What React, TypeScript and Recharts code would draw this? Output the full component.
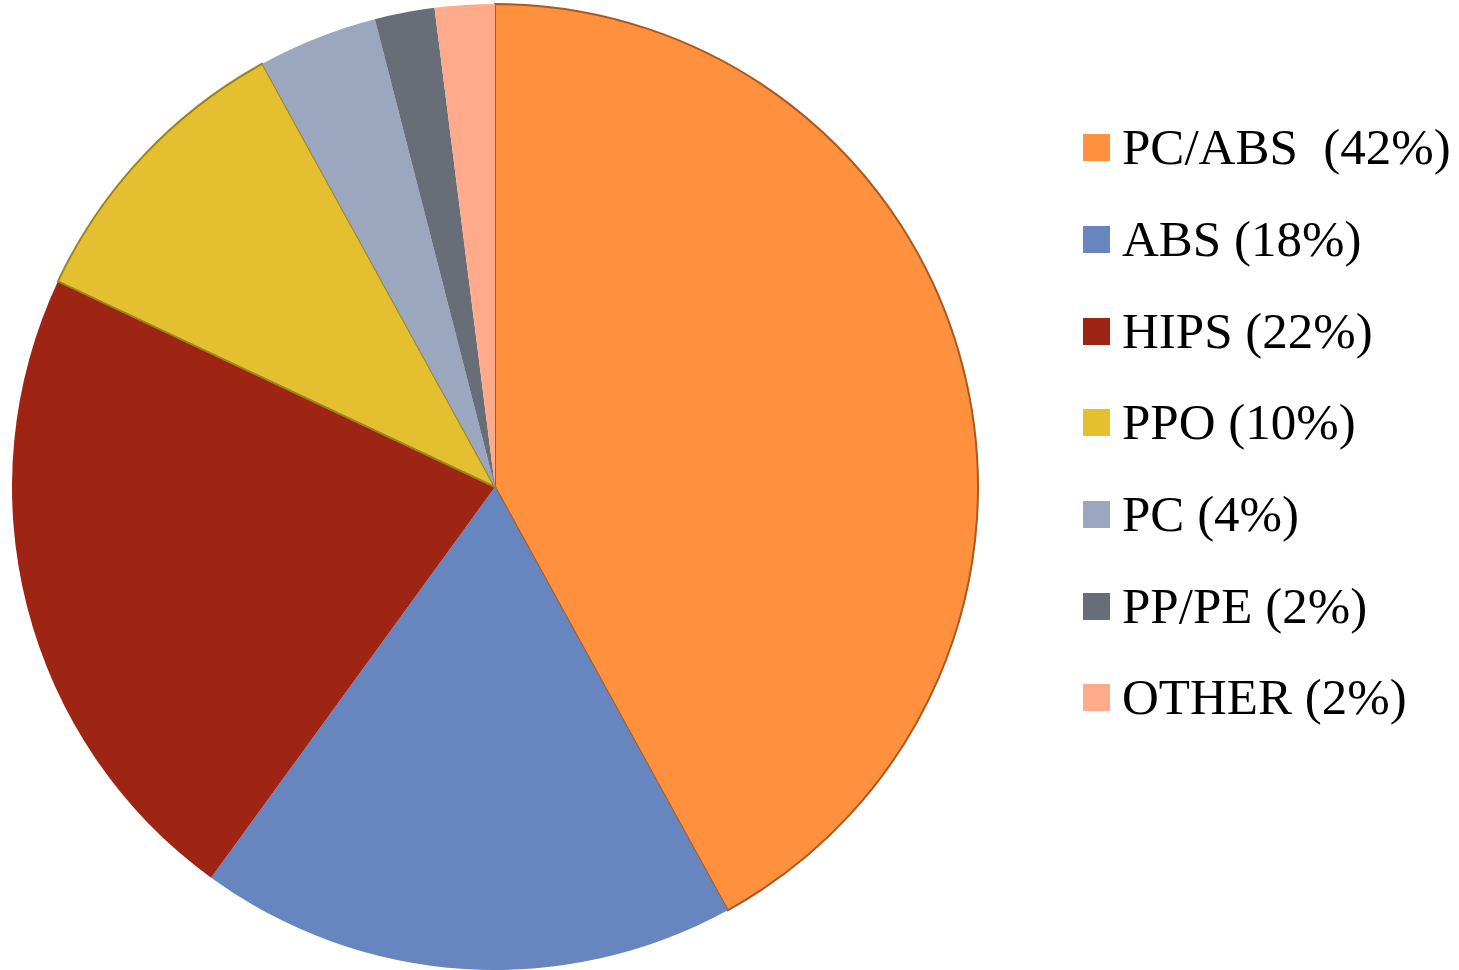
import { PieChart, Pie, Cell, Legend } from 'recharts';

const materials = ['PC/ABS  (42%)', 'ABS (18%)', 'HIPS (22%)', 'PPO (10%)', 'PC (4%)', 'PP/PE (2%)', 'OTHER (2%)'];
const shares = [42, 18, 22, 10, 4, 2, 2];
const colors = ['#FE903E', '#6785BF', '#9E2413', '#E4C030', '#9BA6BF', '#676E78', '#FFAA8A'];
const edges = ['#A85A22', 'none', 'none', '#9A8420', 'none', 'none', 'none'];

const data = materials.map((name, i) => ({ name, value: shares[i] }));

const LegendList = () => (
  <div style={{ fontFamily: '"Liberation Serif", serif', fontSize: 51, color: '#000' }}>
    {materials.map((m, i) => (
      <div key={m} style={{ height: 91.67, display: 'flex', alignItems: 'center' }}>
        <div style={{ width: 27, height: 27, background: colors[i], marginRight: 12 }} />
        <span style={{ whiteSpace: 'pre', lineHeight: 1 }}>{m}</span>
      </div>
    ))}
  </div>
);

const App = () => {
  return (
    <div style={{ position: 'absolute', left: 0, top: 0, background: '#fff' }}>
      <PieChart width={1459} height={970} margin={{ top: 0, right: 0, bottom: 0, left: 0 }}>
        <Pie
          data={data}
          dataKey="value"
          nameKey="name"
          cx={495}
          cy={487}
          outerRadius={483}
          startAngle={90}
          endAngle={-270}
          isAnimationActive={false}
        >
          {data.map((d, i) => (
            <Cell key={d.name} fill={colors[i]} stroke={edges[i]} strokeWidth={edges[i] === 'none' ? 0 : 2} />
          ))}
        </Pie>
        <Legend
          layout="vertical"
          content={() => <LegendList />}
          wrapperStyle={{ left: 1083, top: 102, width: 376, bottom: 'auto' }}
        />
      </PieChart>
    </div>
  );
};

export default App;
